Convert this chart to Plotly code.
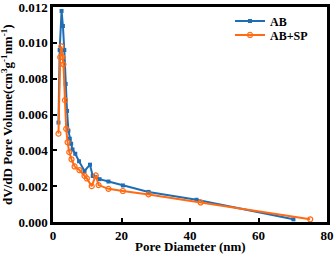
import plotly.graph_objects as go

ab_x = [1.6, 1.95, 2.5, 2.9, 3.3, 3.7, 4.1, 4.5, 4.9, 5.3, 5.7, 6.5, 7.6, 9.2, 10.8, 11.6, 12.4, 13.6, 16.2, 20.4, 27.9, 41.9, 70.2]
ab_y = [0.00555, 0.0096, 0.01178, 0.01094, 0.0096, 0.0077, 0.0062, 0.0051, 0.00465, 0.00437, 0.00405, 0.00381, 0.00339, 0.00285, 0.0032, 0.00257, 0.00252, 0.00239, 0.00226, 0.00204, 0.00168, 0.00124, 0.00015]

sp_x = [1.6, 2.1, 2.45, 2.75, 3.05, 3.5, 3.85, 4.25, 4.75, 5.4, 6.3, 7.7, 9.2, 9.9, 11.3, 12.5, 13.3, 16.2, 20.4, 27.9, 43.1, 75.1]
sp_y = [0.00493, 0.0092, 0.0098, 0.0092, 0.0088, 0.0068, 0.0052, 0.00445, 0.0039, 0.0035, 0.0031, 0.0029, 0.00258, 0.00243, 0.0020, 0.0026, 0.00206, 0.00185, 0.00173, 0.00154, 0.00109, 0.00015]

x_ticks = [0, 20, 40, 60, 80]
y_ticks = [0.000, 0.002, 0.004, 0.006, 0.008, 0.010, 0.012]

blue = "#1f6db5"
orange = "#ff6a13"
font = "Liberation Serif"

fig = go.Figure()
fig.add_trace(go.Scatter(x=ab_x, y=ab_y, mode="lines+markers", name="<b>AB</b>",
                         line=dict(color=blue, width=2), legend="legend",
                         marker=dict(symbol="square", size=4, color=blue)))
fig.add_trace(go.Scatter(x=sp_x, y=sp_y, mode="lines+markers", name="<b>AB+SP</b>",
                         line=dict(color=orange, width=2), legend="legend2",
                         marker=dict(symbol="circle-open", size=5, color=orange, line=dict(width=1.2))))

axis_common = dict(showline=True, linecolor="black", linewidth=2.5, mirror=True,
                   ticks="inside", ticklen=4, tickwidth=2, tickcolor="black",
                   showgrid=False, zeroline=False, automargin=False,
                   ticklabeloverflow="allow",
                   tickfont=dict(family=font, size=13, color="black"))

fig.update_xaxes(range=[0, 80], tickvals=x_ticks, ticktext=[f"<b>{v}</b>" for v in x_ticks],
                 **axis_common)
fig.update_yaxes(range=[0, 0.012], tickvals=y_ticks, ticktext=[f"<b>{v:.3f}</b>" for v in y_ticks],
                 **axis_common)

legend_common = dict(x=0.646, xanchor="left", yanchor="middle",
                     bgcolor="rgba(0,0,0,0)", font=dict(family=font, size=12, color="black"),
                     itemwidth=30)

fig.update_layout(
    width=335, height=256,
    margin=dict(l=53, r=8, t=7, b=34, autoexpand=False),
    paper_bgcolor="white", plot_bgcolor="white",
    font=dict(family=font, color="black"),
    showlegend=True,
    legend=dict(y=0.935, **legend_common),
    legend2=dict(y=0.870, **legend_common),
    annotations=[
        dict(text="<b>Pore Diameter (nm)</b>", xref="paper", yref="paper",
             x=0.5, y=-0.115, xanchor="center", yanchor="middle", showarrow=False,
             font=dict(family=font, size=13, color="black")),
        dict(text="<b>dV/dD Pore Volume(cm<sup>3</sup>g<sup>-1</sup>nm<sup>-1</sup>)</b>",
             xref="paper", yref="paper", x=-0.17, y=0.5, xanchor="center", yanchor="middle",
             textangle=-90, showarrow=False,
             font=dict(family=font, size=13, color="black")),
    ],
)

fig.write_html("out.html", config={"displayModeBar": False},
               post_script="document.body.style.margin='0';document.body.style.overflow='hidden';")
